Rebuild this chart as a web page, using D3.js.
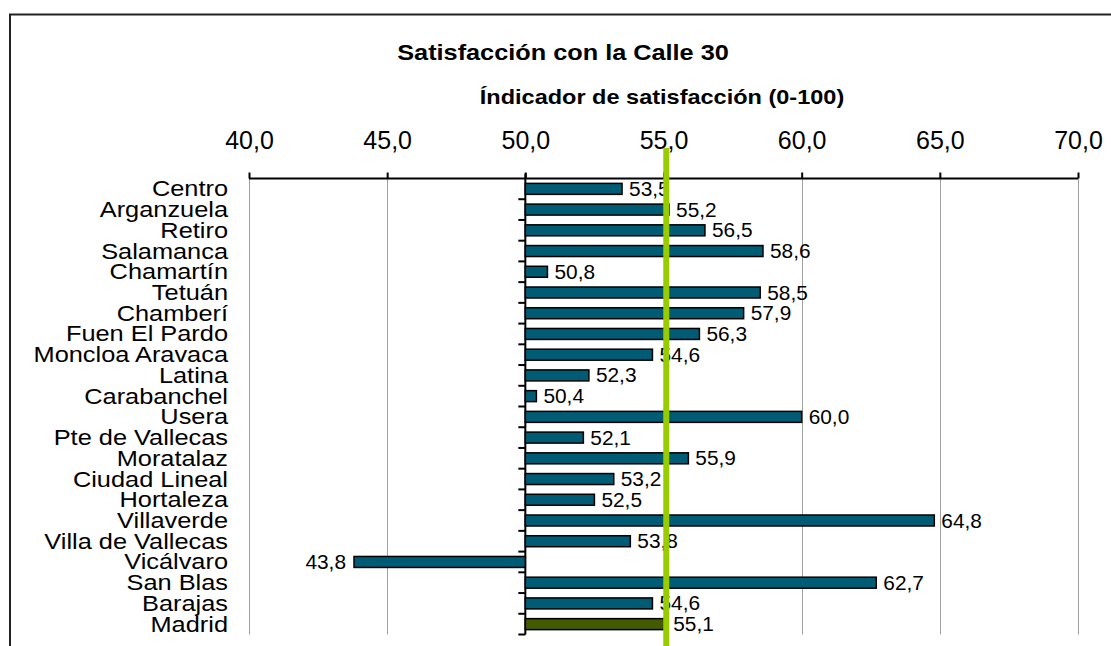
<!DOCTYPE html>
<html>
<head>
<meta charset="utf-8">
<script src="https://cdn.jsdelivr.net/npm/d3@7"></script>
<style>
  html, body { margin: 0; padding: 0; background: #fff; }
  svg { display: block; font-family: "Liberation Sans", Arial, sans-serif; }
</style>
</head>
<body>
<div id="chart"></div>
<script>
// data
var districts = ["Centro", "Arganzuela", "Retiro", "Salamanca", "Chamartín", "Tetuán",
  "Chamberí", "Fuen El Pardo", "Moncloa Aravaca", "Latina", "Carabanchel", "Usera",
  "Pte de Vallecas", "Moratalaz", "Ciudad Lineal", "Hortaleza", "Villaverde",
  "Villa de Vallecas", "Vicálvaro", "San Blas", "Barajas", "Madrid"];
var scores = [53.5, 55.2, 56.5, 58.6, 50.8, 58.5, 57.9, 56.3, 54.6, 52.3, 50.4, 60.0,
  52.1, 55.9, 53.2, 52.5, 64.8, 53.8, 43.8, 62.7, 54.6, 55.1];
var xTicks = [40, 45, 50, 55, 60, 65, 70];
var baseValue = 50;      // bars grow from here
var refValue = 55.1;     // green reference line (Madrid)

var W = 1111, H = 646;
var margin = {top: 178.5, left: 249, right: 1078, bottom: 634.5};

var svg = d3.select("#chart").append("svg")
  .attr("width", W).attr("height", H);

// outer frame (right and bottom fall outside the picture)
svg.append("rect")
  .attr("x", 10).attr("y", 14.5)
  .attr("width", 1200).attr("height", 800)
  .attr("fill", "none").attr("stroke", "#222").attr("stroke-width", 2);

var x = d3.scaleLinear().domain([40, 70]).range([margin.left, margin.right]);
var y = d3.scaleBand().domain(districts).range([margin.top, margin.bottom])
  .paddingInner(0.47).paddingOuter(0.235);
var band = (margin.bottom - margin.top) / districts.length;

var fmt = function(v) { return d3.format(".1f")(v).replace(".", ","); };

// helper: horizontally stretched text like the original
function stretched(g, tx, ty, sx, size, weight, anchor, txt) {
  return g.append("text")
    .attr("transform", "translate(" + tx + "," + ty + ") scale(" + sx + ",1)")
    .attr("font-size", size)
    .attr("font-weight", weight)
    .attr("text-anchor", anchor)
    .attr("fill", "#000")
    .text(txt);
}

// titles
stretched(svg, 563, 59.5, 1.15, 22, "bold", "middle", "Satisfacción con la Calle 30");
stretched(svg, 662, 103.5, 1.12, 21, "bold", "middle", "Índicador de satisfacción (0-100)");

// grid lines
svg.append("g").selectAll("line").data(xTicks).enter().append("line")
  .attr("x1", function(d) { return Math.round(x(d)) + 0.5; })
  .attr("x2", function(d) { return Math.round(x(d)) + 0.5; })
  .attr("y1", margin.top).attr("y2", margin.bottom)
  .attr("stroke", "#a0a0a0").attr("stroke-width", 1);

// top value axis
var xAxis = svg.append("g")
  .attr("transform", "translate(0," + margin.top + ")")
  .call(d3.axisTop(x).tickValues(xTicks).tickSize(6).tickPadding(24).tickFormat(fmt));
xAxis.select(".domain").attr("stroke", "#000").attr("stroke-width", 2)
  .attr("d", "M" + x(40) + ",0H" + x(70));
xAxis.selectAll(".tick line").attr("stroke", "#000").attr("stroke-width", 2);
xAxis.selectAll(".tick text")
  .attr("font-size", 25).attr("font-family", "Liberation Sans, Arial, sans-serif")
  .attr("fill", "#000");

// category axis at x = 50
var boundaries = d3.range(1, districts.length + 1).map(function(i) { return margin.top + i * band; });
svg.append("line")
  .attr("x1", x(baseValue)).attr("x2", x(baseValue))
  .attr("y1", margin.top - 5).attr("y2", margin.bottom)
  .attr("stroke", "#000").attr("stroke-width", 2);
svg.append("g").selectAll("line").data(boundaries).enter().append("line")
  .attr("x1", x(baseValue) - 7).attr("x2", x(baseValue))
  .attr("y1", function(d) { return d; }).attr("y2", function(d) { return d; })
  .attr("stroke", "#000").attr("stroke-width", 2);

// category labels
var catG = svg.append("g");
districts.forEach(function(d) {
  stretched(catG, 228, y(d) + y.bandwidth() / 2 + 7.5, 1.18, 21.5, "normal", "end", d);
});

// bars
svg.append("g").selectAll("rect").data(scores).enter().append("rect")
  .attr("x", function(d) { return x(Math.min(d, baseValue)); })
  .attr("y", function(d, i) { return y(districts[i]); })
  .attr("width", function(d) { return Math.abs(x(d) - x(baseValue)); })
  .attr("height", y.bandwidth())
  .attr("fill", function(d, i) { return districts[i] === "Madrid" ? "#435a00" : "#005b74"; })
  .attr("stroke", "#000").attr("stroke-width", 1.5);

// value labels
var valG = svg.append("g");
scores.forEach(function(v, i) {
  var cy = y(districts[i]) + y.bandwidth() / 2 + 7;
  if (v >= baseValue) {
    stretched(valG, x(v) + 7, cy, 1.07, 19.5, "normal", "start", fmt(v));
  } else {
    stretched(valG, x(v) - 8, cy, 1.07, 19.5, "normal", "end", fmt(v));
  }
});

// green reference line
svg.append("line")
  .attr("x1", x(refValue)).attr("x2", x(refValue))
  .attr("y1", 148).attr("y2", H)
  .attr("stroke", "#99cc00").attr("stroke-width", 6);
</script>
</body>
</html>
